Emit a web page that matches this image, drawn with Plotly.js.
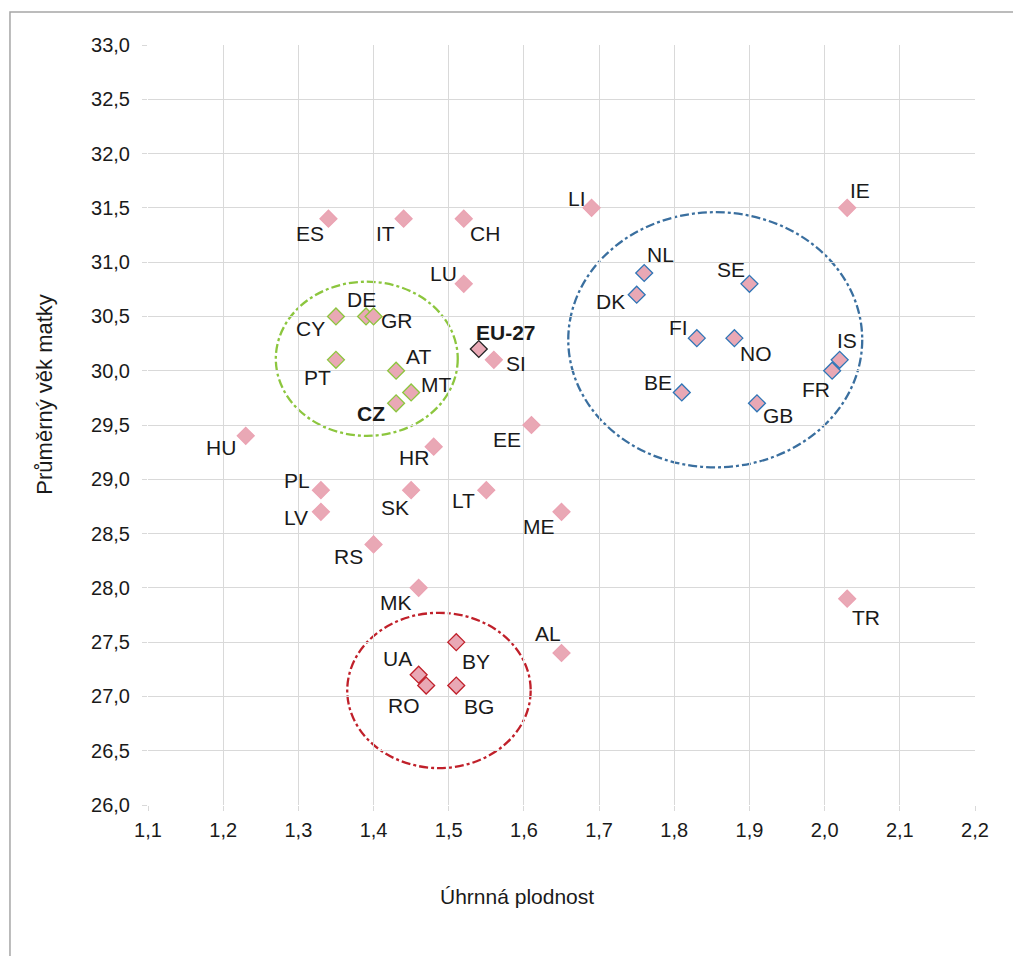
<!DOCTYPE html>
<html>
<head>
<meta charset="utf-8">
<script src="https://cdn.plot.ly/plotly-3.0.1.min.js"></script>
<style>html,body{margin:0;padding:0;background:#fff;}#chart{width:1013px;height:956px;}</style>
</head>
<body>
<div id="chart"></div>
<script>
// Data: country codes, total fertility rate (x), mean age of mother (y), group
const countries = ["ES","IT","CH","LI","IE","LU","NL","DK","SE","FI","NO","IS","FR","BE","GB",
  "CY","DE","GR","PT","AT","MT","CZ","EU-27","SI","EE","HR","HU","PL","LV","SK","LT","ME","RS","MK","TR","AL",
  "BY","UA","RO","BG"];
const fertility = [1.34,1.44,1.52,1.69,2.03,1.52,1.76,1.75,1.90,1.83,1.88,2.02,2.01,1.81,1.91,
  1.35,1.39,1.40,1.35,1.43,1.45,1.43,1.54,1.56,1.61,1.48,1.23,1.33,1.33,1.45,1.55,1.65,1.40,1.46,2.03,1.65,
  1.51,1.46,1.47,1.51];
const meanAge = [31.4,31.4,31.4,31.5,31.5,30.8,30.9,30.7,30.8,30.3,30.3,30.1,30.0,29.8,29.7,
  30.5,30.5,30.5,30.1,30.0,29.8,29.7,30.2,30.1,29.5,29.3,29.4,28.9,28.7,28.9,28.9,28.7,28.4,28.0,27.9,27.4,
  27.5,27.2,27.1,27.1];
const groups = ["o","o","o","o","o","o","n","n","n","n","n","n","n","n","n",
  "s","s","s","s","s","s","s","eu","o","o","o","o","o","o","o","o","o","o","o","o","o",
  "e","e","e","e"];
const boldLabels = ["CZ","EU-27"];
const xTicks = [1.1,1.2,1.3,1.4,1.5,1.6,1.7,1.8,1.9,2.0,2.1,2.2];
const yTicks = [26.0,26.5,27.0,27.5,28.0,28.5,29.0,29.5,30.0,30.5,31.0,31.5,32.0,32.5,33.0];
const xTitle = "Úhrnná plodnost";
const yTitle = "Průměrný věk matky";

// label offsets in pixels (dx right, dy down)
const labelOffsets = {
  ES:[-18,15], IT:[-18,15], CH:[21,15], LI:[-15,-9], IE:[13,-17], LU:[-20,-10],
  NL:[16,-19], DK:[-26,7], SE:[-18,-14], FI:[-18,-11], NO:[22,15], IS:[7,-19], FR:[-16,19],
  BE:[-24,-10], GB:[21,12], CY:[-25,12], DE:[-5,-17], GR:[23,4], PT:[-18,18], AT:[22,-14],
  MT:[25,-8], CZ:[-25,10], "EU-27":[27,-17], SI:[22,4], EE:[-24,14], HR:[-20,11], HU:[-25,12],
  PL:[-24,-10], LV:[-25,6], SK:[-16,17], LT:[-23,10], ME:[-23,15], RS:[-25,12], MK:[-23,15],
  TR:[19,19], AL:[-14,-20], BY:[20,19], UA:[-21,-16], RO:[-22,20], BG:[23,21]
};

const fill = "#e9a8b5";
const borderByGroup = {o:"#eba3b3", n:"#2e75b6", s:"#8cc63e", e:"#c0202a", eu:"#222222"};

const traces = ["o","n","s","e","eu"].map(g => {
  const idx = groups.map((v,i)=>v===g?i:-1).filter(i=>i>=0);
  return {
    type:"scatter", mode:"markers",
    x: idx.map(i=>fertility[i]), y: idx.map(i=>meanAge[i]),
    text: idx.map(i=>countries[i]),
    hoverinfo:"text+x+y",
    marker:{symbol:"diamond", size:13, color:fill, line:{color:borderByGroup[g], width:1.3}},
    showlegend:false
  };
});

const font = "Liberation Sans, Arial, sans-serif";
const annotations = countries.map((c,i)=>({
  x: fertility[i], y: meanAge[i], xref:"x", yref:"y",
  text: boldLabels.includes(c) ? "<b>"+c+"</b>" : c,
  showarrow:false, xshift: labelOffsets[c][0], yshift: -labelOffsets[c][1],
  font:{family:font, size:21, color:"#1a1a1a"}
}));
annotations.push({xref:"paper", yref:"paper", x:0.446, y:-0.121, text:xTitle, showarrow:false,
  xanchor:"center", yanchor:"middle", font:{family:font, size:21, color:"#1a1a1a"}});
annotations.push({xref:"paper", yref:"paper", x:-0.1245, y:0.54, text:yTitle, showarrow:false,
  textangle:-90, xanchor:"center", yanchor:"middle", font:{family:font, size:22, color:"#1a1a1a"}});

const shapes = [
  {type:"circle", xref:"x", yref:"y", x0:1.270, x1:1.512, y0:29.40, y1:30.82,
   line:{color:"#8cc63e", width:2.3, dash:"dashdot"}, layer:"below"},
  {type:"circle", xref:"x", yref:"y", x0:1.659, x1:2.050, y0:29.11, y1:31.46,
   line:{color:"#3a6f9f", width:2.3, dash:"dashdot"}, layer:"below"},
  {type:"circle", xref:"x", yref:"y", x0:1.365, x1:1.609, y0:26.34, y1:27.77,
   line:{color:"#c0202a", width:2.3, dash:"dashdot"}, layer:"below"},
  {type:"rect", xref:"paper", yref:"paper", x0:-0.1669, x1:1.2, y0:-0.3, y1:1.0434,
   line:{color:"#a6a6a6", width:1.5}, layer:"below"}
];

const fmt = v => v.toFixed(1).replace(".", ",");

const layout = {
  width:1013, height:956,
  margin:{l:148, r:38, t:45, b:151},
  paper_bgcolor:"#ffffff", plot_bgcolor:"#ffffff",
  font:{family:font, color:"#1a1a1a", size:20},
  xaxis:{range:[1.1,2.2], tickvals:xTicks, ticktext:xTicks.map(fmt),
    showgrid:true, gridcolor:"#d9d9d9", gridwidth:1, zeroline:false,
    showline:false, ticks:"outside", ticklen:5, tickcolor:"#d9d9d9",
    tickfont:{size:20}, ticklabelstandoff:2},
  yaxis:{range:[26,33], tickvals:yTicks, ticktext:yTicks.map(fmt),
    showgrid:true, gridcolor:"#d9d9d9", gridwidth:1, zeroline:false,
    showline:false, ticks:"outside", ticklen:5, tickcolor:"#d9d9d9",
    tickfont:{size:20}, ticklabelstandoff:8},
  shapes: shapes,
  annotations: annotations,
  showlegend:false
};

Plotly.newPlot("chart", traces, layout, {staticPlot:true});
</script>
</body>
</html>
